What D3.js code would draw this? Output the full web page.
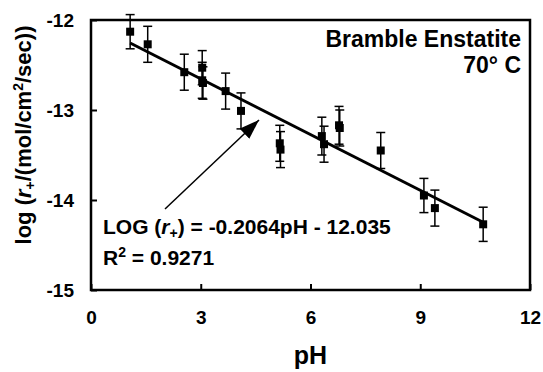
<!DOCTYPE html>
<html><head><meta charset="utf-8">
<script src="https://cdn.jsdelivr.net/npm/d3@7"></script>
<style>body{margin:0;background:#fff}svg{display:block}text{font-family:"Liberation Sans",Arial,sans-serif;font-weight:bold;fill:#000}</style>
</head><body><svg id="c" width="543" height="372"></svg>
<script>
const pH      = [1.07, 1.55, 2.55, 3.04, 3.04, 3.06, 3.68, 4.10, 5.16, 5.18, 6.31, 6.37, 6.78, 6.80, 7.92, 9.10, 9.40, 10.72];
const logRate = [-12.13,-12.27,-12.58,-12.53,-12.67,-12.70,-12.79,-13.01,-13.37,-13.44,-13.29,-13.38,-13.17,-13.20,-13.45,-13.95,-14.09,-14.27];
const errBar  = [0.19, 0.20, 0.20, 0.19, 0.20, 0.18, 0.20, 0.20, 0.20, 0.20, 0.21, 0.20, 0.21, 0.20, 0.20, 0.19, 0.20, 0.19];
const xTicks = [0, 3, 6, 9, 12];
const yTicks = [-15, -14, -13, -12];
const slope = -0.2064, intercept = -12.035;

const svg = d3.select("#c");
const x = d3.scaleLinear().domain([0, 12]).range([91, 530]);
const y = d3.scaleLinear().domain([-15, -12]).range([290, 20]);

const gx = svg.append("g").attr("transform", `translate(0,${y(-15)})`)
  .call(d3.axisBottom(x).tickValues(xTicks).tickSize(-6).tickPadding(21).tickFormat(d3.format("d")));
const gy = svg.append("g").attr("transform", `translate(${x(0)},0)`)
  .call(d3.axisLeft(y).tickValues(yTicks).tickSize(-6).tickPadding(17).tickFormat(d3.format("d")));
[gx, gy].forEach(g => {
  g.select(".domain").remove();
  g.selectAll(".tick line").attr("stroke", "#000").attr("stroke-width", 2);
  g.selectAll(".tick text").attr("font-size", 19).attr("font-weight", "bold").attr("font-family", "Liberation Sans, Arial, sans-serif").attr("fill", "#000");
});
gy.selectAll(".tick text").text(d => d < 0 ? "-" + Math.abs(d) : d);

svg.append("rect").attr("x", x(0)).attr("y", y(-12)).attr("width", x(12) - x(0)).attr("height", y(-15) - y(-12))
  .attr("fill", "none").attr("stroke", "#000").attr("stroke-width", 2.5);

const xr = d3.extent(pH);
svg.append("line").attr("x1", x(xr[0])).attr("y1", y(slope * xr[0] + intercept))
  .attr("x2", x(xr[1])).attr("y2", y(slope * xr[1] + intercept))
  .attr("stroke", "#000").attr("stroke-width", 3);

const data = pH.map((p, i) => ({p, v: logRate[i], e: errBar[i]}));
const eb = svg.append("g").attr("stroke", "#000").attr("stroke-width", 1.5);
data.forEach(d => {
  eb.append("line").attr("x1", x(d.p)).attr("x2", x(d.p)).attr("y1", y(d.v + d.e)).attr("y2", y(d.v - d.e));
  eb.append("line").attr("x1", x(d.p) - 4.5).attr("x2", x(d.p) + 4.5).attr("y1", y(d.v + d.e)).attr("y2", y(d.v + d.e));
  eb.append("line").attr("x1", x(d.p) - 4.5).attr("x2", x(d.p) + 4.5).attr("y1", y(d.v - d.e)).attr("y2", y(d.v - d.e));
});
svg.append("g").selectAll("rect").data(data).join("rect")
  .attr("x", d => x(d.p) - 4).attr("y", d => y(d.v) - 4).attr("width", 8).attr("height", 8).attr("fill", "#000");

svg.append("defs").append("marker").attr("id", "ah").attr("viewBox", "0 0 20 14").attr("refX", 20).attr("refY", 7)
  .attr("markerWidth", 20).attr("markerHeight", 14).attr("markerUnits", "userSpaceOnUse").attr("orient", "auto")
  .append("path").attr("d", "M0,0 L20,7 L0,14 Z").attr("fill", "#000");
svg.append("line").attr("x1", 165).attr("y1", 209).attr("x2", 259).attr("y2", 120)
  .attr("stroke", "#000").attr("stroke-width", 1.5).attr("marker-end", "url(#ah)");

svg.append("text").attr("x", x(6)).attr("y", 364).attr("text-anchor", "middle").attr("font-size", 25).text("pH");
const yt = svg.append("text").attr("transform", "translate(31,135) rotate(-90)").attr("text-anchor", "middle").attr("font-size", 22);
yt.append("tspan").text("log (");
yt.append("tspan").attr("font-style", "italic").text("r");
yt.append("tspan").attr("font-size", 14).attr("dy", 4).text("+");
yt.append("tspan").attr("dy", -4).text("/(mol/cm");
yt.append("tspan").attr("font-size", 14).attr("dy", -8).text("2");
yt.append("tspan").attr("dy", 8).text("/sec))");

svg.append("text").attr("x", 521).attr("y", 47).attr("text-anchor", "end").attr("font-size", 23).text("Bramble Enstatite");
svg.append("text").attr("x", 521).attr("y", 73).attr("text-anchor", "end").attr("font-size", 23).text("70° C");

const eq = svg.append("text").attr("x", 103).attr("y", 234).attr("font-size", 21);
eq.append("tspan").text("LOG (");
eq.append("tspan").attr("font-style", "italic").text("r");
eq.append("tspan").attr("font-size", 14).attr("dy", 4).text("+");
eq.append("tspan").attr("dy", -4).text(") = " + slope + "pH - " + Math.abs(intercept).toFixed(3));
const r2 = svg.append("text").attr("x", 103).attr("y", 265).attr("font-size", 21);
r2.append("tspan").text("R");
r2.append("tspan").attr("font-size", 14).attr("dy", -8).text("2");
r2.append("tspan").attr("dy", 8).text(" = 0.9271");
</script></body></html>
